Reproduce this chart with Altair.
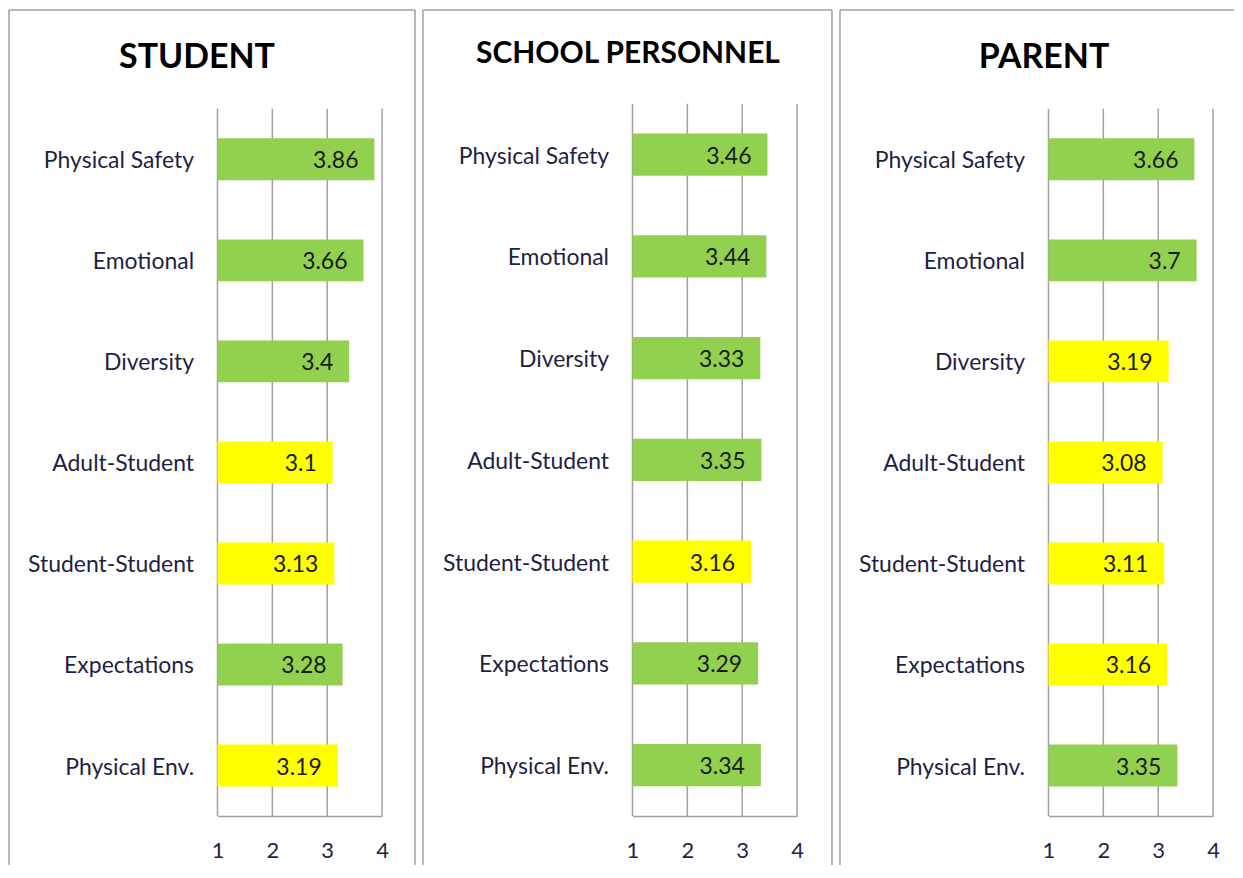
import altair as alt
import pandas as pd

categories = ["Physical Safety", "Emotional", "Diversity", "Adult-Student",
              "Student-Student", "Expectations", "Physical Env."]
titles = ["STUDENT", "SCHOOL PERSONNEL", "PARENT"]
student = [3.86, 3.66, 3.4, 3.1, 3.13, 3.28, 3.19]
personnel = [3.46, 3.44, 3.33, 3.35, 3.16, 3.29, 3.34]
parent = [3.66, 3.7, 3.19, 3.08, 3.11, 3.16, 3.35]
x_ticks = [1, 2, 3, 4]
threshold = 3.2

GREEN = "#92D050"
YELLOW = "#FFFF00"
FONT = "Lato"
LABEL_COLOR = "#1f1f45"
GRID = "#a0a0a0"
H = 714


def panel(title, values, top, frame, title_x, title_y, title_size, right_side=True):
    L, R, T, B = frame
    df = pd.DataFrame({"cat": categories, "value": values})
    xs = alt.Scale(domain=[1, 4], nice=False, zero=False)
    ys = alt.Scale(domain=categories, range=[top, H],
                   paddingInner=0.585, paddingOuter=0.2925)
    base = alt.Chart(df)
    grid = alt.Chart(pd.DataFrame({"t": x_ticks})).mark_rule(
        color=GRID, strokeWidth=1.5).encode(
        x=alt.X("t:Q", scale=xs,
                axis=alt.Axis(values=x_ticks, title=None, grid=False, ticks=False,
                              domain=True, labelPadding=25, format="d",
                              labelFlush=False, labelFontSize=22)),
        y=alt.value(top), y2=alt.value(H))
    bars = base.mark_bar().encode(
        y=alt.Y("cat:N", scale=ys, sort=categories,
                axis=alt.Axis(title=None, ticks=False, domain=False, grid=False,
                              labelPadding=24, labelFontSize=23, labelOffset=2)),
        x=alt.X("value:Q", scale=xs),
        x2=alt.datum(1),
        color=alt.condition(alt.datum.value >= threshold, alt.value(GREEN), alt.value(YELLOW)),
    )
    labels = base.mark_text(align="right", baseline="middle", dx=-16, dy=2, font=FONT,
                            fontSize=23, color="#1a1a1a").encode(
        y=alt.Y("cat:N", sort=categories),
        x=alt.X("value:Q"),
        text=alt.Text("value:Q", format=".3~g"),
    )
    tdf = pd.DataFrame({"t": [title]})
    ttl = alt.Chart(tdf).mark_text(align="center", baseline="alphabetic", font=FONT,
                                   fontWeight="bold", fontSize=title_size,
                                   color="#000000").encode(
        x=alt.value(title_x), y=alt.value(title_y), text="t:N")
    fr = alt.Chart(pd.DataFrame({"k": [0]})).mark_rule(color=GRID, strokeWidth=1.5)
    layers = [grid, bars, labels, ttl,
              fr.encode(x=alt.value(L), x2=alt.value(R), y=alt.value(T)),
              fr.encode(x=alt.value(L), y=alt.value(T), y2=alt.value(B))]
    if right_side:
        layers.append(fr.encode(x=alt.value(R), y=alt.value(T), y2=alt.value(B)))
    return alt.layer(*layers).properties(width=165, height=H)


p1 = panel(titles[0], student, 5, (-209, 198, -94, 763), -20.5, -36, 34)
p2 = panel(titles[1], personnel, 0, (-210, 200, -94, 763), -4.5, -41, 30)
p3 = panel(titles[2], parent, 5, (-209, 186, -94, 763), -4.5, -36, 34, right_side=False)

chart = alt.hconcat(p1, p2, p3, spacing=6).configure(padding=0).configure_view(
    stroke=None).configure_axis(
    labelFont=FONT, labelFontSize=22, labelColor=LABEL_COLOR,
    gridColor=GRID, gridWidth=1.5, domainColor=GRID, domainWidth=1.5,
)

chart.save("out.html", embed_options={"renderer": "svg", "actions": False})
